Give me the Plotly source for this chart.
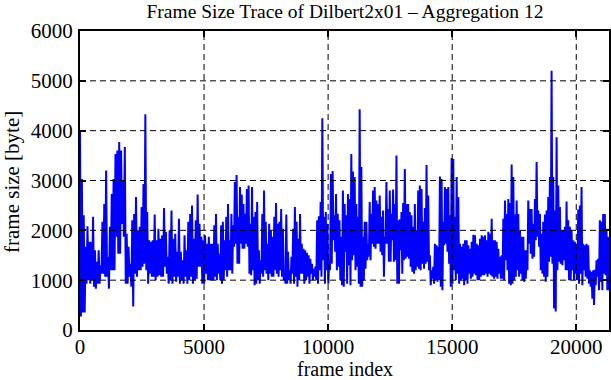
import numpy as np
import plotly.graph_objects as go

seg1_frames = (0, 5343)
seg1 = [4010, 270, 3030, 350, 2300, 350, 1670, 930, 2080, 1000, 1770, 930, 1770, 1000, 2270, 870,
        1600, 830, 1370, 930, 1600, 930, 1300, 1130, 2170, 1130, 2530, 1070, 3200, 1070, 1470, 830,
        2070, 1200, 2730, 1200, 3030, 1200, 3530, 1870, 3600, 1530, 3770, 1530, 3600, 2130, 3000, 1870,
        3670, 930, 1930, 930, 1670, 1070, 1330, 870, 2200, 470, 2330, 1130, 2670, 1070, 2000, 1200,
        2070, 1200, 2470, 1270, 2930, 1330, 4330, 1200, 2370, 930, 1800, 1130, 1770, 1070, 1800, 1070,
        2320, 1000, 1800, 1070, 2030, 1100, 1830, 1070, 1900, 1070, 2450, 1270, 1970, 1130, 1470, 930,
        2000, 1000, 2400, 930, 1830, 1070, 1930, 970, 1570, 1070, 2230, 930, 1570, 1000, 1400, 930,
        1900, 1070, 1600, 930, 2170, 1000, 2330, 1070, 2500, 930, 1830, 1000, 2200, 1030, 2720, 1270,
        2130, 1270, 1870, 930, 1800, 930, 1900, 1130, 1730, 1000, 1870, 1000, 1730, 1000]
seg2_frames = (5343, 10665)
seg2 = [1730, 1000, 2100, 1070, 2330, 1000, 1730, 1130, 1530, 1000, 2100, 930, 2170, 1000, 1800, 1200,
        2270, 1070, 2530, 1200, 1800, 1200, 2330, 1130, 2100, 1670, 2970, 1730, 3110, 1330, 2270, 1330,
        2870, 1730, 2720, 1630, 2530, 1630, 2330, 1730, 2830, 1670, 2900, 1130, 2130, 1100, 2870, 1200,
        2270, 900, 2370, 930, 2570, 1000, 1600, 930, 1400, 1130, 2330, 1070, 2800, 1200, 2170, 1130,
        1730, 1000, 2130, 1130, 2000, 1070, 1870, 1070, 2270, 1200, 2550, 1130, 2130, 1070, 2170, 1200,
        2430, 1070, 2030, 1000, 1170, 930, 2320, 930, 1570, 1000, 1200, 930, 1470, 1130, 2030, 930,
        2470, 1070, 2170, 870, 1830, 1000, 2330, 1130, 1730, 1130, 1630, 930, 1600, 1000, 1550, 1070,
        1500, 930, 1430, 1130, 1330, 1000, 1230, 1070, 1270, 1000, 2200, 930, 2280, 1200, 2570, 1070,
        4250, 1400, 2270, 930, 2370, 1200, 2130, 930, 1400, 1200, 3130, 1330, 3190, 1800, 2300, 1570,
        2730, 1200, 2330, 1270, 2200, 1000, 1870, 900, 2800, 870]
seg3_frames = (10665, 15988)
seg3 = [2530, 1570, 2300, 930, 2730, 1300, 2630, 900, 3530, 1400, 3180, 1500, 3070, 1200, 2530, 1270,
        2270, 930, 4430, 870, 3270, 870, 1870, 1000, 2170, 1230, 2170, 1400, 1730, 1470, 2570, 1400,
        2330, 1730, 2800, 1670, 2870, 1630, 2600, 1730, 2530, 1730, 2700, 1570, 2270, 1500, 2400, 1070,
        1870, 1730, 2970, 1730, 2430, 1370, 2800, 1370, 2330, 1800, 2820, 1370, 2530, 1400, 3500, 930,
        2200, 930, 2220, 1600, 2370, 1130, 2550, 1400, 3230, 1430, 2530, 1470, 2530, 1430, 2370, 1270,
        2300, 1170, 2070, 1130, 2530, 1200, 2000, 1270, 2800, 1230, 2900, 1200, 2830, 1330, 2170, 1230,
        2450, 1330, 3310, 1370, 2700, 1200, 1500, 900, 1200, 1030, 1270, 930, 1730, 1000, 1700, 970,
        1670, 1000, 3080, 870, 3030, 800, 2170, 1700, 2870, 1730, 2830, 1570, 2870, 1330, 2300, 870,
        3450, 930, 3430, 1200, 2270, 1000, 3070, 1130, 2670, 930, 1730, 1000, 1670, 1030, 1730, 900,
        1800, 1000, 1800, 930, 1700, 1130, 1630, 1030, 1770, 1070, 1910, 1130, 1900, 1100]
seg4_frames = (15988, 21320)
seg4 = [1730, 1000, 1700, 1000, 1830, 1070, 1900, 1100, 1870, 1100, 1900, 1130, 1800, 1070, 1970, 1130,
        1930, 1100, 2230, 1070, 1800, 1030, 1800, 1070, 1770, 1030, 1630, 1130, 1470, 1030, 1500, 1030,
        2230, 1000, 2600, 1400, 2330, 1200, 2630, 930, 2550, 900, 3320, 930, 3070, 1000, 2320, 1070,
        2600, 1200, 2330, 1070, 2000, 1130, 1870, 1000, 1870, 970, 1600, 1030, 1600, 1200, 2600, 1730,
        2430, 1530, 2430, 1430, 2130, 1470, 2630, 1800, 3370, 1870, 2400, 1670, 2330, 1200, 1930, 1130,
        2170, 1070, 2320, 970, 2400, 1070, 2670, 1370, 3070, 1470, 5200, 1330, 3070, 430, 2400, 370,
        3870, 1200, 2900, 1370, 2470, 1330, 2000, 1300, 2000, 1400, 2070, 1200, 2580, 1200, 2200, 1000,
        2070, 1000, 2000, 1200, 1800, 1000, 1770, 1130, 1730, 1000, 2420, 930, 2500, 1130, 2870, 900,
        1730, 1200, 1700, 1070, 1730, 1030, 1700, 930, 1200, 870, 1170, 630, 1200, 500, 1210, 900,
        1400, 1070, 1430, 800, 2200, 970, 2170, 800, 2330, 1130, 2330, 1100, 2030, 800, 1870, 800]

x_ticks = [0, 5000, 10000, 15000, 20000]
y_ticks = [0, 1000, 2000, 3000, 4000, 5000, 6000]
x_max = 21320

title = "Frame Size Trace of Dilbert2x01 \u2013 Aggregation 12"
x_label = "frame index"
y_label = "frame size [byte]"

xs, ys = [], []
segs = [(seg1_frames, seg1), (seg2_frames, seg2), (seg3_frames, seg3), (seg4_frames, seg4)]
for k, (fr, vals) in enumerate(segs):
    last = k == len(segs) - 1
    xs.extend(np.linspace(fr[0], fr[1], len(vals), endpoint=last).tolist())
    ys.extend(vals)

FONT = "Liberation Serif"
FS = 21
W, H = 611, 380
L, R, T, B = 80, 2, 31, 50

fig = go.Figure()
fig.add_trace(go.Scatter(x=xs, y=ys, mode="lines",
                         line=dict(color="#0000ff", width=2), hoverinfo="skip",
                         showlegend=False))

for v in x_ticks[1:]:
    fig.add_shape(type="line", xref="x", yref="paper", x0=v, x1=v, y0=0, y1=1,
                  line=dict(color="black", width=1, dash="6px,4px"), layer="above")
for v in y_ticks[1:-1]:
    fig.add_shape(type="line", xref="paper", yref="y", x0=0, x1=1, y0=v, y1=v,
                  line=dict(color="black", width=1, dash="6px,4px"), layer="above")

fig.add_annotation(text=x_label, xref="paper", yref="paper", x=(345 - L) / (W - L - R),
                   y=-(369 - (H - B)) / (H - T - B), xanchor="center", yanchor="middle",
                   showarrow=False, font=dict(family=FONT, size=20, color="black"))
fig.add_annotation(text=y_label, xref="paper", yref="paper", x=-(L - 12) / (W - L - R),
                   y=(H - B - 182) / (H - T - B), xanchor="center", yanchor="middle",
                   textangle=-90, showarrow=False, font=dict(family=FONT, size=FS, color="black"))

fig.update_layout(
    width=W, height=H,
    margin=dict(l=L, r=R, t=T, b=B, autoexpand=False),
    paper_bgcolor="white", plot_bgcolor="white",
    font=dict(family=FONT, size=FS, color="black"),
    title=dict(text=title, x=(345 / W), xref="container", xanchor="center",
               y=1 - 11 / H, yref="container", yanchor="middle",
               font=dict(family=FONT, size=19.5, color="black")),
)
axis_common = dict(ticks="inside", ticklen=6, tickwidth=1.5, tickcolor="black",
                   showline=True, linewidth=2, linecolor="black", mirror="ticks",
                   showgrid=False, zeroline=False, automargin=False,
                   tickfont=dict(family=FONT, size=FS, color="black"))
fig.update_xaxes(range=[0, x_max], tickvals=x_ticks, ticktext=[str(v) for v in x_ticks],
                 ticklabelstandoff=-3, **axis_common)
fig.update_yaxes(range=[0, 6000], tickvals=y_ticks, ticktext=[str(v) for v in y_ticks],
                 ticklabelstandoff=1, **axis_common)

fig.write_html("out.html", config={"displayModeBar": False},
               post_script="document.body.style.margin='0px';")
